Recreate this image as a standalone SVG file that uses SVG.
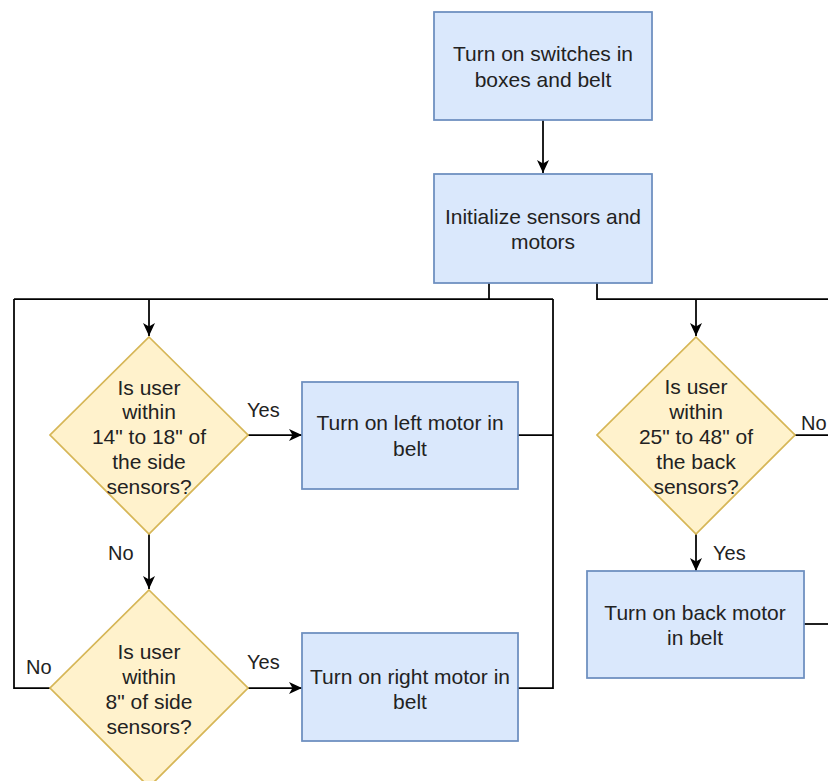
<svg xmlns="http://www.w3.org/2000/svg" width="828" height="781" viewBox="0 0 828 781">
<style>
.box{fill:#dae8fc;stroke:#6c8ebf;stroke-width:1.75}
.dia{fill:#fff2cc;stroke:#d6b656;stroke-width:1.75}
.t{font-family:"Liberation Sans",Arial,sans-serif;font-size:21px;fill:#222;text-anchor:middle}
.lbl{font-family:"Liberation Sans",Arial,sans-serif;font-size:20px;fill:#222}
.edge{fill:none;stroke:#000;stroke-width:1.75}
.arr{marker-end:url(#ah)}
</style>
<defs>
<marker id="ah" markerUnits="userSpaceOnUse" markerWidth="14" markerHeight="12" refX="13" refY="6" orient="auto">
<path d="M0,0 L13,6 L0,12 L3.5,6 z" fill="#000"/>
</marker>
</defs>
<rect width="828" height="781" fill="#fff"/>
<g id="connectors">
<path class="edge arr" d="M543,120 V173"/>
<path class="edge" d="M489,283 V299"/>
<path class="edge" d="M14,299 H553"/>
<path class="edge arr" d="M149,299 V336"/>
<path class="edge arr" d="M248,435 H302"/>
<path class="edge" d="M518,435 H553"/>
<path class="edge" d="M553,299 V688 H518"/>
<path class="edge arr" d="M149,534 V589"/>
<path class="edge arr" d="M248,688 H302"/>
<path class="edge" d="M50,688 H14 V299"/>
<path class="edge" d="M597,283 V299 H828"/>
<path class="edge arr" d="M696,299 V336"/>
<path class="edge" d="M795,435 H828"/>
<path class="edge arr" d="M696,534 V571"/>
<path class="edge" d="M804,624 H828"/>
<text class="lbl" x="247" y="417">Yes</text>
<text class="lbl" x="108" y="560">No</text>
<text class="lbl" x="26" y="674">No</text>
<text class="lbl" x="247" y="669">Yes</text>
<text class="lbl" x="801" y="430">No</text>
<text class="lbl" x="713" y="560">Yes</text>
</g>
<g id="n1">
<rect class="box" x="434" y="12" width="218" height="108"/>
<text class="t" x="543" y="61">Turn on switches in</text>
<text class="t" x="543" y="87">boxes and belt</text>
</g>
<g id="n2">
<rect class="box" x="434" y="174" width="218" height="109"/>
<text class="t" x="543" y="224">Initialize sensors and</text>
<text class="t" x="543" y="249">motors</text>
</g>
<g id="d1">
<polygon class="dia" points="149,337 248,435 149,534 50,435"/>
<text class="t" x="149" y="395">Is user</text>
<text class="t" x="149" y="419">within</text>
<text class="t" x="149" y="444">14" to 18" of</text>
<text class="t" x="149" y="469">the side</text>
<text class="t" x="149" y="494">sensors?</text>
</g>
<g id="n3">
<rect class="box" x="302" y="382" width="216" height="107"/>
<text class="t" x="410" y="430">Turn on left motor in</text>
<text class="t" x="410" y="456">belt</text>
</g>
<g id="d2">
<polygon class="dia" points="149,590 248,688 149,787 50,688"/>
<text class="t" x="149" y="659">Is user</text>
<text class="t" x="149" y="684">within</text>
<text class="t" x="149" y="709">8" of side</text>
<text class="t" x="149" y="734">sensors?</text>
</g>
<g id="n4">
<rect class="box" x="302" y="633" width="216" height="108"/>
<text class="t" x="410" y="684">Turn on right motor in</text>
<text class="t" x="410" y="709">belt</text>
</g>
<g id="d3">
<polygon class="dia" points="696,337 795,435 696,534 597,435"/>
<text class="t" x="696" y="394">Is user</text>
<text class="t" x="696" y="419">within</text>
<text class="t" x="696" y="444">25" to 48" of</text>
<text class="t" x="696" y="469">the back</text>
<text class="t" x="696" y="494">sensors?</text>
</g>
<g id="n5">
<rect class="box" x="587" y="571" width="217" height="107"/>
<text class="t" x="695" y="620">Turn on back motor</text>
<text class="t" x="695" y="645">in belt</text>
</g>
</svg>
